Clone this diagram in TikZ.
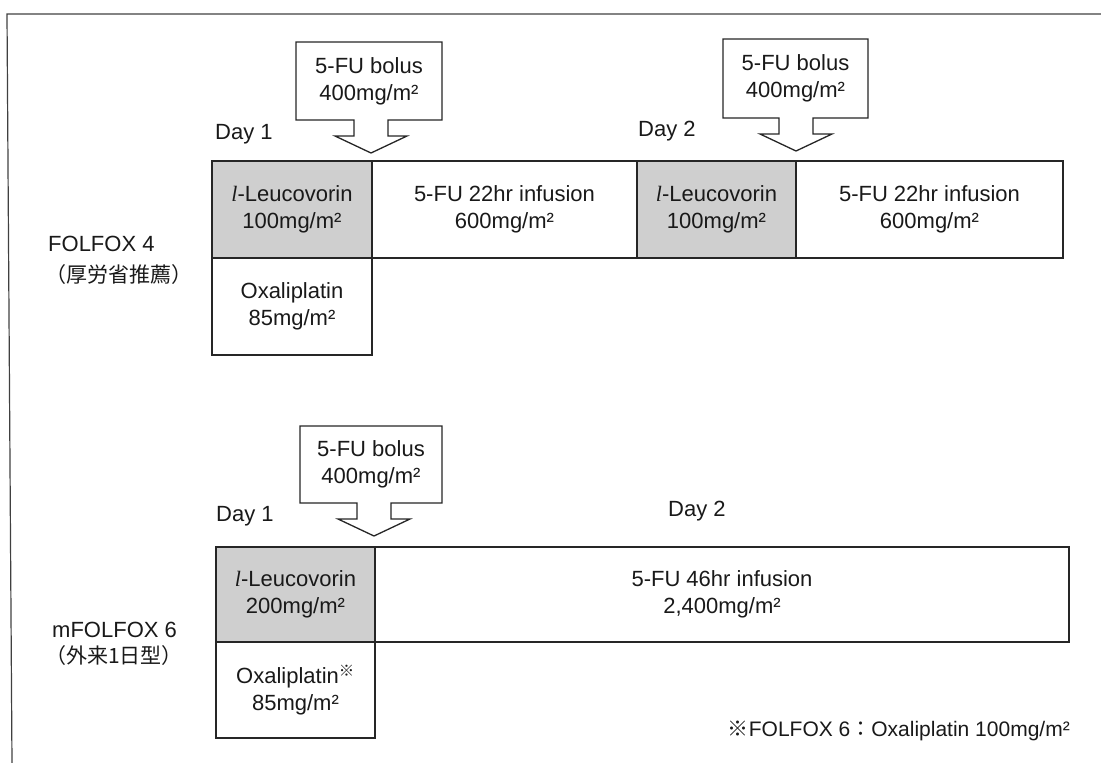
\documentclass[tikz,border=0pt]{standalone}
\usepackage{fontspec}
\setmainfont{Liberation Sans}
\newfontfamily\jpfont{Noto Sans CJK JP}
\newfontfamily\tnr{Liberation Serif}
\newcommand{\il}{{\tnr\itshape l}}
% #1 name, #2 left, #3 right, #4 top, #5 bottom, #6 arrow centre x
\newcommand{\bolusarrow}[6]{%
  \draw[outline] (#2,#4) -- (#3,#4) -- (#3,#5) -- ({#6+17},#5) -- ({#6+17},{#5+16})
    -- ({#6+36},{#5+16}) -- (#6,{#5+33}) -- ({#6-36},{#5+16}) -- ({#6-17},{#5+16})
    -- ({#6-17},#5) -- (#2,#5) -- cycle;
  \node[txt] (#1) at ({(#2+#3)/2},{(#4+#5)/2}) {5-FU bolus\\400mg/m²};
}
\begin{document}
\begin{tikzpicture}[x=1pt,y=-1pt,
  txt/.style={font=\fontsize{22}{27}\selectfont, align=center, text=black!90, inner sep=0pt},
  jp/.style={font=\jpfont\fontsize{21}{25}\selectfont, text=black!90, inner sep=0pt},
  cell/.style={txt, draw=black!85, line width=1.3pt},
  leuco/.style={cell, fill=black!19},
  outline/.style={draw=black!85, line width=1.3pt, fill=white, line join=miter},
  frameline/.style={draw=black!75, line width=1.2pt}
]
\useasboundingbox (0,0) rectangle (1101,763);
% frame (top and left edges)
\coordinate (ftl) at (7,14);
\coordinate (ftr) at (1101,14);
\coordinate (fbl) at (12,763);
\draw[frameline] (ftr) -- (ftl) -- (fbl);

% ---------- FOLFOX 4 ----------
\node[leuco, minimum width=160pt, minimum height=97pt] (leu1) at (292,209.5) {\il-Leucovorin\\100mg/m²};
\node[leuco, minimum width=159pt, minimum height=97pt] (leu2) at (716.5,209.5) {\il-Leucovorin\\100mg/m²};
\node[cell, minimum width=265pt, minimum height=97pt] (inf1) at (504.5,209.5) {5-FU 22hr infusion\\600mg/m²};
\node[cell, minimum width=267pt, minimum height=97pt] (inf2) at (929.5,209.5) {5-FU 22hr infusion\\600mg/m²};
\node[cell, minimum width=160pt, minimum height=97pt] (oxa1) at (292,306.5) {Oxaliplatin\\85mg/m²};

\bolusarrow{bol1}{296}{442}{42}{120}{371}
\bolusarrow{bol2}{723}{868}{39}{118}{796}

\node[txt, anchor=base west] (day1a) at (215,139) {Day 1};
\node[txt, anchor=base west] (day2a) at (638,136) {Day 2};

\node[txt, anchor=base west] (lab1) at (48,251) {FOLFOX 4};
\node[jp, anchor=base west] (lab1jp) at (45,282) {（厚労省推薦）};

% ---------- mFOLFOX 6 ----------
\node[leuco, minimum width=159pt, minimum height=95pt] (leu3) at (295.5,594.5) {\il-Leucovorin\\200mg/m²};
\node[cell, minimum width=694pt, minimum height=95pt] (inf3) at (722,594.5) {5-FU 46hr infusion\\2,400mg/m²};
\node[cell, minimum width=159pt, minimum height=96pt] (oxa3) at (295.5,690) {Oxaliplatin\textsuperscript{\jpfont ※}\\85mg/m²};

\bolusarrow{bol3}{300}{442}{426}{503}{374}

\node[txt, anchor=base west] (day1b) at (216,521) {Day 1};
\node[txt, anchor=base west] (day2b) at (668,516) {Day 2};

\node[txt, anchor=base west] (lab2) at (52,637) {mFOLFOX 6};
\node[jp, anchor=base west] (lab2jp) at (45,663) {（外来1日型）};

% note
\node[txt, anchor=base east, font=\fontsize{21}{25}\selectfont] (note) at (1070,736)
  {{\jpfont ※}FOLFOX 6{\jpfont ：}Oxaliplatin 100mg/m²};
\end{tikzpicture}
\end{document}
